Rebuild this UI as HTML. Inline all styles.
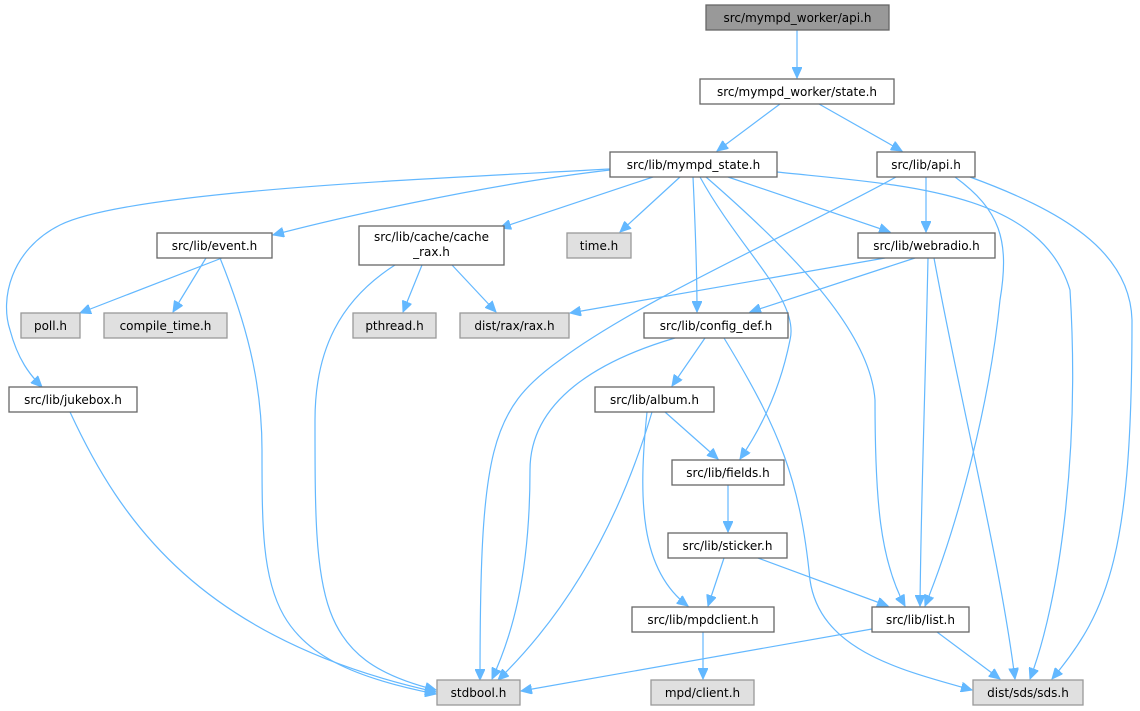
<!DOCTYPE html>
<html><head><meta charset="utf-8"><style>
html,body{margin:0;padding:0;background:#fff;}
svg{display:block;}
text{font-family:"DejaVu Sans","Liberation Sans",sans-serif;font-size:12px;fill:#000;}
.e{fill:none;stroke:#63b8ff;stroke-width:1.2;marker-end:url(#a);}
.n{fill:#fff;stroke:#666;stroke-width:1.3;}
.g{fill:#e0e0e0;stroke:#999;stroke-width:1.3;}
</style></head><body>
<svg width="1140" height="711" viewBox="0 0 1140 711" xmlns="http://www.w3.org/2000/svg">
<defs><marker id="a" markerWidth="12" markerHeight="10" refX="11" refY="5" orient="auto" markerUnits="userSpaceOnUse"><path d="M0,0 L11,5 L0,10 z" fill="#63b8ff" stroke="#63b8ff"/></marker></defs>
<g>
<path class="e" d="M797,30 L797,78"/>
<path class="e" d="M780,104 L717,151"/>
<path class="e" d="M819,104 L902,151"/>
<path class="e" d="M610,170 C480,185 330,220 273,235"/>
<path class="e" d="M610,169 C450,178 130,190 60,225 C10,250 0,300 10,330 C18,360 30,375 42,387"/>
<path class="e" d="M653,177 L500,228"/>
<path class="e" d="M680,177 L620,232"/>
<path class="e" d="M693,177 C695,220 697,270 697,312"/>
<path class="e" d="M700,177 C740,250 800,300 790,340 C780,390 760,430 740,459"/>
<path class="e" d="M706,177 C790,250 870,330 875,400 C875,500 880,560 905,606"/>
<path class="e" d="M728,177 L890,232"/>
<path class="e" d="M777,172 C900,185 1040,190 1070,290 C1080,450 1060,600 1030,679"/>
<path class="e" d="M896,177 C800,230 640,300 560,360 C490,410 480,450 480,680"/>
<path class="e" d="M926,177 L926,232"/>
<path class="e" d="M955,177 C1000,210 1010,240 1000,300 C990,400 960,520 925,606"/>
<path class="e" d="M970,177 C1060,210 1130,250 1132,320 C1132,550 1110,610 1052,679"/>
<path class="e" d="M222,258 L80,313"/>
<path class="e" d="M206,258 L173,312"/>
<path class="e" d="M220,258 C245,320 262,380 262,450 C262,600 262,660 436,694"/>
<path class="e" d="M422,265 L403,312"/>
<path class="e" d="M452,265 L496,312"/>
<path class="e" d="M395,265 C340,300 315,350 315,420 C315,600 315,660 436,690"/>
<path class="e" d="M885,258 L570,313"/>
<path class="e" d="M915,258 L750,312"/>
<path class="e" d="M928,258 C925,400 921,500 920,606"/>
<path class="e" d="M934,258 C960,400 1000,560 1015,679"/>
<path class="e" d="M675,338 C600,360 530,400 530,470 C530,580 510,640 492,679"/>
<path class="e" d="M705,338 L672,386"/>
<path class="e" d="M724,338 C780,430 800,480 810,580 C820,650 900,670 972,690"/>
<path class="e" d="M70,412 C120,520 200,640 436,692"/>
<path class="e" d="M652,412 C620,520 570,610 498,680"/>
<path class="e" d="M665,412 L718,459"/>
<path class="e" d="M647,412 C638,500 640,570 688,606"/>
<path class="e" d="M728,485 L728,532"/>
<path class="e" d="M724,558 L708,606"/>
<path class="e" d="M758,558 L888,606"/>
<path class="e" d="M703,632 L703,679"/>
<path class="e" d="M872,629 L521,691"/>
<path class="e" d="M937,632 L1000,679"/>
</g>
<g>
<rect x="706" y="5" width="183" height="25" fill="#999" stroke="#666" stroke-width="1.3"/>
<text x="797.5" y="22" text-anchor="middle">src/mympd_worker/api.h</text>
<rect class="n" x="700" y="79" width="194" height="25"/><text x="797" y="96" text-anchor="middle">src/mympd_worker/state.h</text>
<rect class="n" x="610" y="152" width="167" height="25"/><text x="693.5" y="169" text-anchor="middle">src/lib/mympd_state.h</text>
<rect class="n" x="877" y="152" width="98" height="25"/><text x="926" y="169" text-anchor="middle">src/lib/api.h</text>
<rect class="n" x="157" y="233" width="115" height="25"/><text x="214.5" y="250" text-anchor="middle">src/lib/event.h</text>
<rect class="n" x="359" y="226" width="145" height="39"/><text x="431.5" y="241" text-anchor="middle">src/lib/cache/cache</text><text x="431.5" y="256" text-anchor="middle">_rax.h</text>
<rect class="g" x="567" y="233" width="64" height="25"/><text x="599" y="250" text-anchor="middle">time.h</text>
<rect class="n" x="858" y="233" width="137" height="25"/><text x="926.5" y="250" text-anchor="middle">src/lib/webradio.h</text>
<rect class="g" x="21" y="313" width="59" height="25"/><text x="50.5" y="330" text-anchor="middle">poll.h</text>
<rect class="g" x="104" y="313" width="123" height="25"/><text x="165.5" y="330" text-anchor="middle">compile_time.h</text>
<rect class="g" x="353" y="313" width="83" height="25"/><text x="394.5" y="330" text-anchor="middle">pthread.h</text>
<rect class="g" x="460" y="313" width="109" height="25"/><text x="514.5" y="330" text-anchor="middle">dist/rax/rax.h</text>
<rect class="n" x="644" y="313" width="144" height="25"/><text x="716" y="330" text-anchor="middle">src/lib/config_def.h</text>
<rect class="n" x="9" y="387" width="128" height="25"/><text x="73" y="404" text-anchor="middle">src/lib/jukebox.h</text>
<rect class="n" x="595" y="387" width="119" height="25"/><text x="654.5" y="404" text-anchor="middle">src/lib/album.h</text>
<rect class="n" x="672" y="460" width="112" height="25"/><text x="728" y="477" text-anchor="middle">src/lib/fields.h</text>
<rect class="n" x="668" y="533" width="119" height="25"/><text x="727.5" y="550" text-anchor="middle">src/lib/sticker.h</text>
<rect class="n" x="632" y="607" width="142" height="25"/><text x="703" y="624" text-anchor="middle">src/lib/mpdclient.h</text>
<rect class="n" x="872" y="607" width="97" height="25"/><text x="920.5" y="624" text-anchor="middle">src/lib/list.h</text>
<rect class="g" x="437" y="680" width="83" height="25"/><text x="478.5" y="697" text-anchor="middle">stdbool.h</text>
<rect class="g" x="651" y="680" width="103" height="25"/><text x="702.5" y="697" text-anchor="middle">mpd/client.h</text>
<rect class="g" x="973" y="680" width="110" height="25"/><text x="1028" y="697" text-anchor="middle">dist/sds/sds.h</text>
</g>
</svg>
</body></html>
